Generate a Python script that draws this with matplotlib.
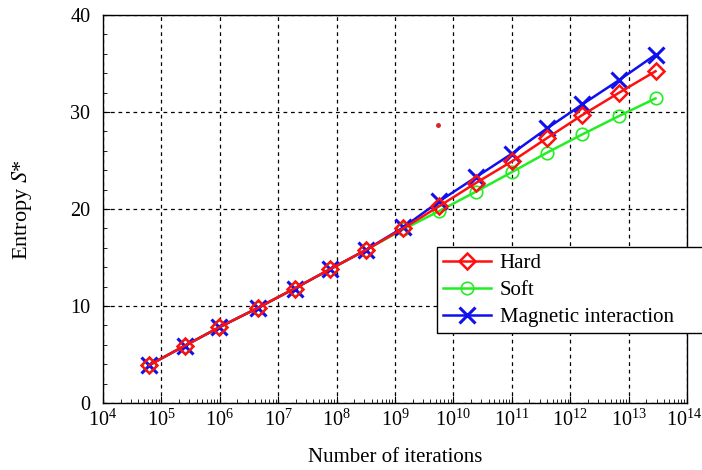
import matplotlib
matplotlib.use("Agg")
import matplotlib.pyplot as plt
from matplotlib.ticker import MultipleLocator, LogLocator, NullFormatter
from matplotlib.transforms import ScaledTranslation
import numpy as np

plt.rcParams['font.family'] = ['Liberation Serif', 'DejaVu Serif']
plt.rcParams['mathtext.fontset'] = 'stix'

# log10 of number of iterations
log_iter = [4.79, 5.40, 5.99, 6.65, 7.28, 7.89, 8.51, 9.14, 9.76, 10.39, 11.00, 11.60, 12.21, 12.84, 13.46]
hard = [3.9, 5.9, 7.8, 9.8, 11.8, 13.8, 15.8, 18.0, 20.3, 22.7, 24.9, 27.3, 29.7, 32.0, 34.2]
soft = [3.9, 5.9, 7.8, 9.8, 11.8, 13.8, 15.8, 17.9, 19.8, 21.8, 23.8, 25.8, 27.7, 29.6, 31.4]
magnetic = [3.9, 5.9, 7.8, 9.8, 11.8, 13.8, 15.8, 18.1, 20.8, 23.3, 25.7, 28.3, 30.8, 33.3, 35.9]
stray_dot = (9.74, 28.7)

x = [10 ** v for v in log_iter]

fig = plt.figure(figsize=(7.02, 4.70), dpi=100)
ax = fig.add_axes([0.1467, 0.1426, 0.832, 0.8255])

ax.plot(x, soft, color='#22ee22', marker='o', ms=9, mfc='none', mew=1.2, lw=1.8,
        label='Soft', zorder=3)
ax.plot(x, magnetic, color='#1010ee', marker='x', ms=11, mew=2.2, lw=1.8,
        label='Magnetic interaction', zorder=4)
ax.plot(x, hard, color='#ff1010', marker='D', ms=8, mfc='none', mew=1.8, lw=1.8,
        label='Hard', zorder=5)
ax.plot([10 ** stray_dot[0]], [stray_dot[1]], 'o', color='#dd2222', ms=2.5, zorder=5)

ax.set_xscale('log')
ax.set_xlim(1e4, 1e14)
ax.set_ylim(0, 40)
ax.xaxis.set_major_locator(LogLocator(base=10, numticks=20))
ax.xaxis.set_minor_locator(LogLocator(base=10, subs=np.arange(2, 10), numticks=200))
ax.xaxis.set_minor_formatter(NullFormatter())
ax.yaxis.set_major_locator(MultipleLocator(10))
ax.yaxis.set_minor_locator(MultipleLocator(2))

ax.grid(True, which='major', color='black', linestyle=(0, (3, 3)), lw=0.9)
ax.tick_params(which='both', direction='in', top=False, right=False)
ax.tick_params(which='major', length=5, labelsize=14.5)
ax.tick_params(axis='x', which='major', pad=5)
ax.tick_params(axis='y', which='major', pad=9)
ax.tick_params(which='minor', length=3)
for s in ax.spines.values():
    s.set_linewidth(1.0)

ax.set_xlabel('Number of iterations', fontsize=15)
ax.set_ylabel('Entropy $S$*', fontsize=16)
ax.xaxis.set_label_coords(0.5, -(458 - 403) / (403 - 15), transform=ax.transAxes)
ax.xaxis.label.set_va('center')
ax.yaxis.label.set_va('center')
ax.yaxis.set_label_coords(22 / 702, 1 - 210 / 470, transform=fig.transFigure)

handles, labels = ax.get_legend_handles_labels()
order = [2, 0, 1]
leg_x0 = 437 / 702
leg_w = (706 - 437) / 702
leg_top = 1 - 247 / 470
leg = ax.legend([handles[i] for i in order], [labels[i] for i in order],
                loc='upper left', bbox_to_anchor=(leg_x0, leg_top - 0.2, leg_w, 0.2),
                bbox_transform=fig.transFigure, mode='expand', fontsize=15, frameon=True,
                fancybox=False, edgecolor='black', framealpha=1,
                handlelength=2.3, borderpad=0.3, labelspacing=0.36, handletextpad=0.4,
                borderaxespad=0)
leg.get_frame().set_linewidth(1.0)
leg.set_zorder(10)

# nudge the last x tick label left so it stays inside the figure
fig.canvas.draw()
last = [t for t in ax.xaxis.get_major_ticks() if np.isclose(t.get_loc(), 1e14)]
for t in last:
    t.label1.set_transform(t.label1.get_transform()
                           + ScaledTranslation(-3 / 100, 0, fig.dpi_scale_trans))

fig.savefig('out.png', dpi=100)
